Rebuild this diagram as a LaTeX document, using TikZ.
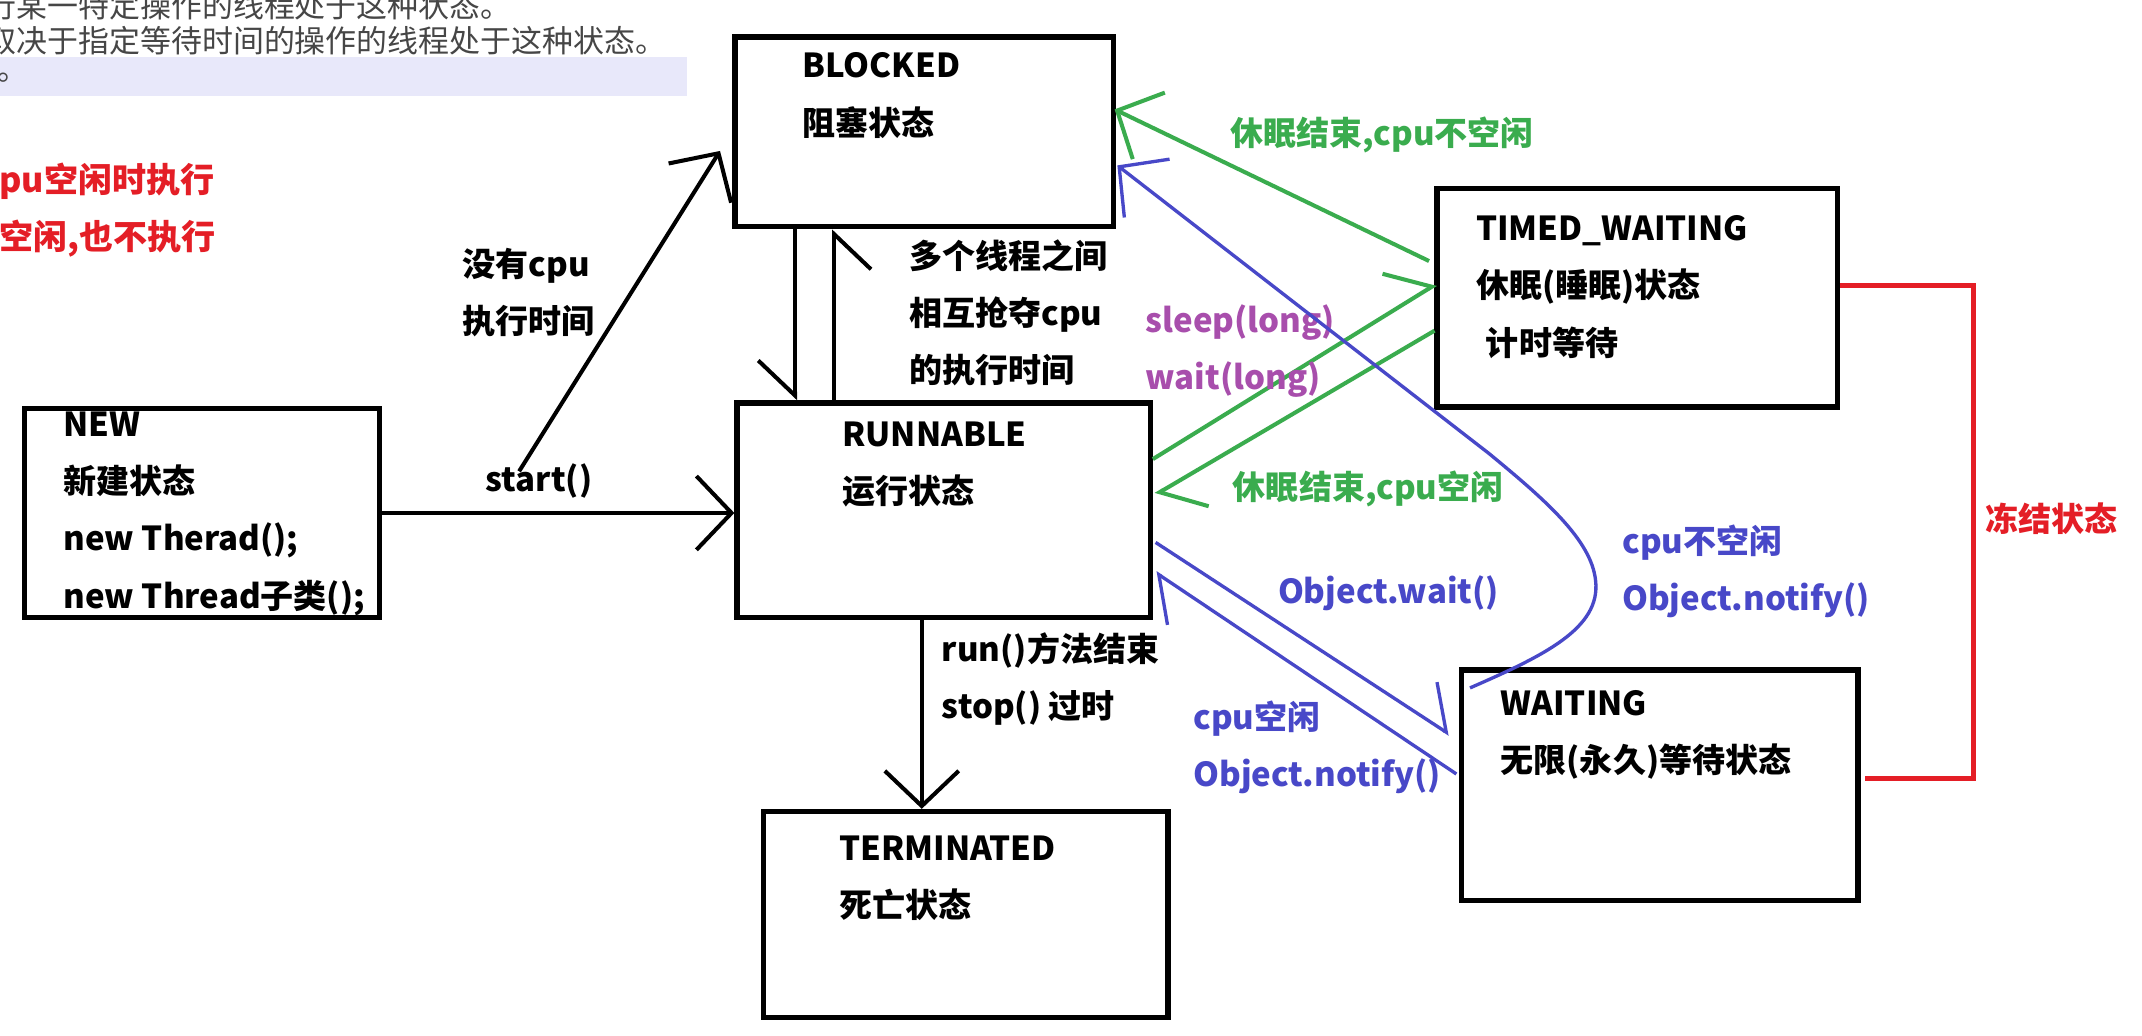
\documentclass[tikz,border=0pt]{standalone}
\usepackage{fontspec}
\setmainfont{Noto Sans CJK SC}
\usetikzlibrary{arrows.meta, positioning, fit, calc}
\definecolor{sleepgreen}{RGB}{58,172,78}
\definecolor{waitblue}{RGB}{72,72,200}
\definecolor{timedpurple}{RGB}{168,78,172}
\definecolor{frozenred}{RGB}{228,30,38}
\definecolor{notegray}{RGB}{70,70,70}
\definecolor{noteband}{RGB}{232,232,250}
\tikzset{
    state/.style={draw=black, line width=1.5pt, inner sep=0pt},
    txt/.style={anchor=west, align=left, inner sep=0pt, font=\bfseries\fontsize{9.4}{16.3}\selectfont},
    note/.style={anchor=west, inner sep=0pt, text=notegray, font=\fontsize{8.8}{10}\selectfont},
    arrow/.style={line width=1.15pt, -{Straight Barb[length=10pt, width=21pt]}},
    halfarrow/.style={line width=1.15pt, -{Straight Barb[harpoon, length=10pt, width=21pt]}},
    halfarrowswap/.style={line width=1.15pt, -{Straight Barb[harpoon, swap, length=10pt, width=21pt]}},
    frozenline/.style={draw=frozenred, line width=1.45pt}
}

\begin{document}
\begin{tikzpicture}[x=0.1366mm, y=-0.1366mm]
    \path[use as bounding box, fill=white] (0,0) rectangle (1568,758);

    % Notes cut off at the top left
    \fill[noteband] (0,42) rectangle (503,70);
    \node[note] (note1) at (-11,4) {行某一特定操作的线程处于这种状态。};
    \node[note] (note2) at (-11,30) {取决于指定等待时间的操作的线程处于这种状态。};
    \node[note] (note3) at (-2,57) {。};
    \node[txt, text=frozenred, font=\bfseries\fontsize{9.7}{16.3}\selectfont] (cpunote) at (-1,154) {pu空闲时执行\\空闲,也不执行};

    % States
    \node[state, fit={(538,27) (815,166)}] (blocked) {};
    \node[state, fit={(1052,138) (1345,298)}] (timed) {};
    \node[state, fit={(18,299) (278,452)}] (new) {};
    \node[state, fit={(539.5,295) (842,452)}] (runnable) {};
    \node[state, fit={(559,594) (855,745)}] (terminated) {};
    \node[state, fit={(1070,490.5) (1360,659)}] (waiting) {};

    \node[txt] (blockedtxt) at (587,70) {BLOCKED\\阻塞状态};
    \node[txt] (timedtxt) at (1080,210) {TIMED\_WAITING\\休眠(睡眠)状态\\\hspace*{0.3em}计时等待};
    \node[txt] (newtxt) at (46,376) {NEW\\新建状态\\new Therad();\\new Thread子类();};
    \node[txt] (runnabletxt) at (616,340) {RUNNABLE\\运行状态};
    \node[txt] (terminatedtxt) at (614,643) {TERMINATED\\死亡状态};
    \node[txt] (waitingtxt) at (1098,538) {WAITING\\无限(永久)等待状态};

    % Transitions
    \draw[arrow] (new.east) -- (new.east -| runnable.west);
    \node[txt] (startlbl) at (355,352) {start()};

    \coordinate (nocpu) at (380,345);
    \draw[arrow] (nocpu) -- ($(blocked.west)+(-9,14)$);
    \node[txt] (nocpulbl) at (338,214) {没有cpu\\执行时间};

    \draw[halfarrowswap] ($(blocked.south west)+(46,0)$) -- ($(runnable.north west)+(44.5,0)$);
    \draw[halfarrowswap] ($(runnable.north west)+(73,0)$) -- ($(blocked.south west)+(74.5,0)$);
    \node[txt] (grablbl) at (665,229) {多个线程之间\\相互抢夺cpu\\的执行时间};

    \draw[arrow, sleepgreen] ($(timed.north west)+(-4,55)$) -- ($(blocked.north east)+(-1,55)$);
    \node[txt, text=sleepgreen] (busylbl) at (900,99) {休眠结束,cpu不空闲};
    \draw[halfarrow, sleepgreen] ($(runnable.north east)+(0,43)$) -- ($(timed.north west)+(1,72)$);
    \node[txt, text=timedpurple] (sleeplbl) at (838,257) {sleep(long)\\wait(long)};
    \draw[halfarrow, sleepgreen] ($(timed.north west)+(0,106)$) -- ($(runnable.north east)+(2,69)$);
    \node[txt, text=sleepgreen] (freelbl) at (902,358) {休眠结束,cpu空闲};

    \draw[halfarrow, waitblue, line width=0.95pt] ($(runnable.north east)+(2,104)$) -- ($(waiting.north west)+(-7,49)$);
    \node[txt, text=waitblue] (waitlbl) at (935,434) {Object.wait()};
    \draw[halfarrow, waitblue, line width=0.95pt] ($(waiting.north west)+(-2,78)$) -- ($(runnable.north east)+(2,126)$);
    \node[txt, text=waitblue] (notifyfree) at (873,547) {cpu空闲\\Object.notify()};
    \draw[arrow, waitblue, line width=0.95pt] ($(waiting.north west)+(8,15)$) .. controls (1130,480) and (1172,460) .. (1168,425)
        .. controls (1165,395) and (1130,365) .. (1090,332) -- ($(blocked.north east)+(1,96)$);
    \node[txt, text=waitblue] (notifybusy) at (1187,418) {cpu不空闲\\Object.notify()};

    \draw[frozenline] ($(timed.north east)+(0,73)$) -- ++(98,0) |- ($(waiting.north east)+(3,81)$);
    \node[txt, text=frozenred] (frozenlbl) at (1453,380) {冻结状态};

    \coordinate (runout) at ($(runnable.south)+(-16,0)$);
    \draw[arrow] (runout) -- (runout |- terminated.north);
    \node[txt] (endlbl) at (689,497) {run()方法结束\\stop() 过时};
\end{tikzpicture}
\end{document}
